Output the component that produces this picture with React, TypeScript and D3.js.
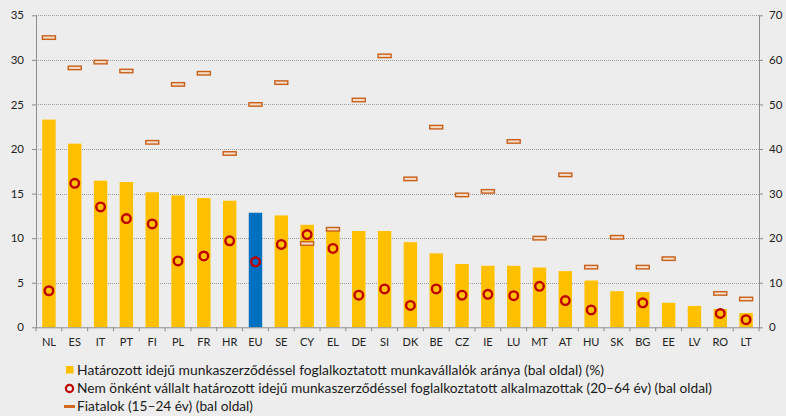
import React, { useEffect, useRef } from 'react';
import { select, scaleLinear, scaleBand, axisLeft, axisRight, axisBottom } from 'd3';

const countries = ['NL', 'ES', 'IT', 'PT', 'FI', 'PL', 'FR', 'HR', 'EU', 'SE', 'CY', 'EL', 'DE', 'SI',
  'DK', 'BE', 'CZ', 'IE', 'LU', 'MT', 'AT', 'HU', 'SK', 'BG', 'EE', 'LV', 'RO', 'LT'];

// fixed-term employees share (left axis, %)
const temporary = [23.3, 20.6, 16.45, 16.3, 15.15, 14.8, 14.5, 14.2, 12.85, 12.55, 11.5, 11.2, 10.8, 10.8,
  9.55, 8.3, 7.1, 6.9, 6.9, 6.7, 6.3, 5.25, 4.05, 3.95, 2.75, 2.4, 2.05, 1.6];

// involuntary fixed-term (20-64), left axis; null = no data
const involuntary: (number | null)[] = [4.1, 16.15, 13.5, 12.2, 11.6, 7.45, 8.0, 9.7, 7.35, 9.3, 10.4, 8.85,
  3.6, 4.3, 2.45, 4.3, 3.6, 3.7, 3.55, 4.6, 3.0, 1.95, null, 2.75, null, null, 1.55, 0.85];

// youth 15-24 (plotted against right axis); null = no data
const youth: (number | null)[] = [65.0, 58.2, 59.5, 57.5, 41.5, 54.5, 57.0, 39.0, 50.0, 54.9, 18.8, 22.0,
  51.0, 60.9, 33.3, 44.9, 29.7, 30.5, 41.7, 20.0, 34.2, 13.5, 20.2, 13.5, 15.4, null, 7.6, 6.35];

const leftTicks = [0, 5, 10, 15, 20, 25, 30, 35];
const rightTicks = [0, 10, 20, 30, 40, 50, 60, 70];

const legendLabels = [
  'Határozott idejű munkaszerződéssel foglalkoztatott munkavállalók aránya (bal oldal) (%)',
  'Nem önként vállalt határozott idejű munkaszerződéssel foglalkoztatott alkalmazottak (20–64 év) (bal oldal)',
  'Fiatalok (15–24 év) (bal oldal)',
];

const W = 786;
const H = 416;
const plot = { left: 36, right: 759, top: 15.3, bottom: 327.3 };
const FONT = 'Lato, "Open Sans", sans-serif';

const App: React.FC = () => {
  const svgRef = useRef<SVGSVGElement | null>(null);

  useEffect(() => {
    const svg = select(svgRef.current);
    svg.selectAll('*').remove();

    const x = scaleBand().domain(countries).range([plot.left, plot.right]).paddingInner(0.48).paddingOuter(0.24);
    const band = scaleBand().domain(countries).range([plot.left, plot.right]);
    const y = scaleLinear().domain([0, 35]).range([plot.bottom, plot.top]);
    const y2 = scaleLinear().domain([0, 70]).range([plot.bottom, plot.top]);

    svg.append('rect').attr('width', W).attr('height', H).attr('fill', '#ededed');

    // gridlines
    svg.append('g')
      .selectAll('line')
      .data(leftTicks.filter(t => t > 0))
      .enter()
      .append('line')
      .attr('x1', plot.left)
      .attr('x2', plot.right)
      .attr('y1', d => Math.round(y(d)) + 0.5)
      .attr('y2', d => Math.round(y(d)) + 0.5)
      .attr('stroke', '#9a9a9a')
      .attr('stroke-dasharray', '1,1');

    // bars
    svg.append('g')
      .selectAll('rect')
      .data(countries)
      .enter()
      .append('rect')
      .attr('x', d => x(d)!)
      .attr('width', x.bandwidth())
      .attr('y', (_, i) => y(temporary[i]))
      .attr('height', (_, i) => plot.bottom - y(temporary[i]))
      .attr('fill', d => (d === 'EU' ? '#0070c0' : '#ffc000'));

    // youth dashes
    const dashW = 13;
    const dashH = 3.5;
    svg.append('g')
      .selectAll('rect')
      .data(countries.filter((_, i) => youth[i] != null))
      .enter()
      .append('rect')
      .attr('x', d => band(d)! + band.bandwidth() / 2 - dashW / 2)
      .attr('y', d => y2(youth[countries.indexOf(d)]!) - dashH / 2)
      .attr('width', dashW)
      .attr('height', dashH)
      .attr('fill', '#f6dcc6')
      .attr('stroke', '#c8601a')
      .attr('stroke-width', 1.4);

    // involuntary circles
    svg.append('g')
      .selectAll('circle')
      .data(countries.filter((_, i) => involuntary[i] != null))
      .enter()
      .append('circle')
      .attr('cx', d => band(d)! + band.bandwidth() / 2)
      .attr('cy', d => y(involuntary[countries.indexOf(d)]!))
      .attr('r', 4.3)
      .attr('fill', 'none')
      .attr('stroke', '#c00000')
      .attr('stroke-width', 2.4);

    // axes
    const styleAxis = (g: any) => {
      g.select('.domain').attr('stroke', '#8c8c8c');
      g.selectAll('.tick line').attr('stroke', '#8c8c8c');
      g.selectAll('.tick text').attr('fill', '#222').attr('font-family', FONT).attr('font-size', 11.5);
    };

    svg.append('g')
      .attr('transform', `translate(${plot.left},0)`)
      .call(axisLeft(y).tickValues(leftTicks).tickSize(4).tickSizeOuter(0).tickPadding(8))
      .call(styleAxis);

    svg.append('g')
      .attr('transform', `translate(${plot.right},0)`)
      .call(axisRight(y2).tickValues(rightTicks).tickSize(4).tickSizeOuter(0).tickPadding(6))
      .call(styleAxis);

    const xAxis = svg.append('g')
      .attr('transform', `translate(0,${plot.bottom})`)
      .call(axisBottom(band).tickSize(0).tickPadding(11))
      .call(styleAxis);
    xAxis.selectAll('.tick text').attr('font-size', 11);

    // category separator ticks
    svg.append('g')
      .selectAll('line')
      .data(countries.concat(['__end']))
      .enter()
      .append('line')
      .attr('x1', (d, i) => (i < countries.length ? band(d)! : plot.right))
      .attr('x2', (d, i) => (i < countries.length ? band(d)! : plot.right))
      .attr('y1', plot.bottom)
      .attr('y2', plot.bottom + 4)
      .attr('stroke', '#8c8c8c');

    // legend
    const legend = svg.append('g').attr('font-family', FONT).attr('font-size', 13).attr('fill', '#1a1a1a');
    const rowY = [370, 388.5, 406.5];
    const widths = [527, 635, 176];
    legend.append('rect').attr('x', 66).attr('y', rowY[0] - 4).attr('width', 7.5).attr('height', 7.5).attr('fill', '#ffc000');
    legend.append('circle').attr('cx', 69.5).attr('cy', rowY[1]).attr('r', 3.6)
      .attr('fill', 'none').attr('stroke', '#c00000').attr('stroke-width', 2.2);
    legend.append('rect').attr('x', 64).attr('y', rowY[2] - 1.5).attr('width', 11).attr('height', 3).attr('fill', '#d2691e');
    legend.selectAll('text')
      .data(legendLabels)
      .enter()
      .append('text')
      .attr('x', 77)
      .attr('y', (_, i) => rowY[i])
      .attr('dy', '0.35em')
      .attr('textLength', (_, i) => widths[i])
      .attr('lengthAdjust', 'spacingAndGlyphs')
      .text(d => d);
  }, []);

  return (
    <div style={{ position: 'absolute', left: 0, top: 0 }}>
      <svg ref={svgRef} width={W} height={H} style={{ display: 'block' }} />
    </div>
  );
};

export default App;
